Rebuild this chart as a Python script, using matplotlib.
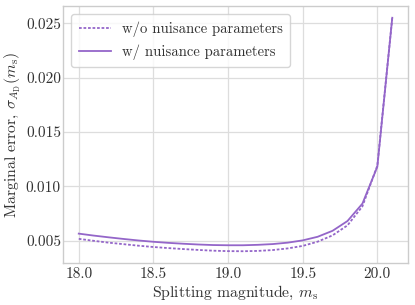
import numpy as np
import matplotlib
matplotlib.use('Agg')
import matplotlib.pyplot as plt

m_s = [18.0, 18.1, 18.2, 18.3, 18.4, 18.5, 18.6, 18.7, 18.8, 18.9, 19.0,
       19.1, 19.2, 19.3, 19.4, 19.5, 19.6, 19.7, 19.8, 19.9, 20.0, 20.1]
sigma_wo = [0.00516, 0.00498, 0.00481, 0.00467, 0.00453, 0.00441, 0.00431,
            0.00422, 0.00414, 0.00407, 0.00403, 0.00402, 0.00405, 0.00413,
            0.00428, 0.00451, 0.00490, 0.00548, 0.00640, 0.00815, 0.01190,
            0.02550]
sigma_w = [0.00564, 0.00546, 0.00530, 0.00515, 0.00501, 0.00489, 0.00479,
           0.00471, 0.00464, 0.00459, 0.00457, 0.00457, 0.00461, 0.00468,
           0.00481, 0.00502, 0.00535, 0.00590, 0.00680, 0.00840, 0.01180,
           0.02550]
labels = ['w/o nuisance parameters', 'w/ nuisance parameters']

plt.rcParams['font.family'] = 'cmr10'
plt.rcParams['mathtext.fontset'] = 'cm'
plt.rcParams['axes.formatter.use_mathtext'] = True

col = '#9466c9'
fig, ax = plt.subplots(figsize=[4.15, 3.05], dpi=100, facecolor='w')
fig.subplots_adjust(left=0.152, right=0.983, top=0.98, bottom=0.138)
ax.plot(m_s, sigma_wo, ls=(0, (1.5, 1.0)), lw=1.3, color=col, label=labels[0])
ax.plot(m_s, sigma_w, ls='-', lw=1.3, color=col, label=labels[1])
ax.grid(True, color='#dddddd', lw=0.9)
ax.set_axisbelow(True)
for s in ax.spines.values():
    s.set_color('#cccccc')
    s.set_linewidth(1.0)
ax.tick_params(length=0, labelsize=11, colors='#333333')
ax.tick_params(axis='x', pad=3.5)
ax.tick_params(axis='y', pad=1.5)
ax.set_xticks([18.0, 18.5, 19.0, 19.5, 20.0])
ax.set_xticklabels(['18.0', '18.5', '19.0', '19.5', '20.0'])
ax.set_yticks([0.005, 0.010, 0.015, 0.020, 0.025])
ax.set_yticklabels(['0.005', '0.010', '0.015', '0.020', '0.025'])
ax.set_xlabel(r'Splitting magnitude, $m_{\rm s}$', fontsize=11.3, color='#333333', labelpad=2)
ax.set_ylabel(r'Marginal error, $\sigma_{A_{\rm D}}(m_{\rm s})$', fontsize=11.3, color='#333333', labelpad=2)
leg = ax.legend(loc='upper left', fontsize=10.6, frameon=True, handlelength=2.2,
                handletextpad=0.75, borderpad=0.5, labelspacing=0.5,
                borderaxespad=0.55)
leg.get_frame().set_edgecolor('#cccccc')
for t in leg.get_texts():
    t.set_color('#333333')
fig.savefig('out.png', dpi=100)
